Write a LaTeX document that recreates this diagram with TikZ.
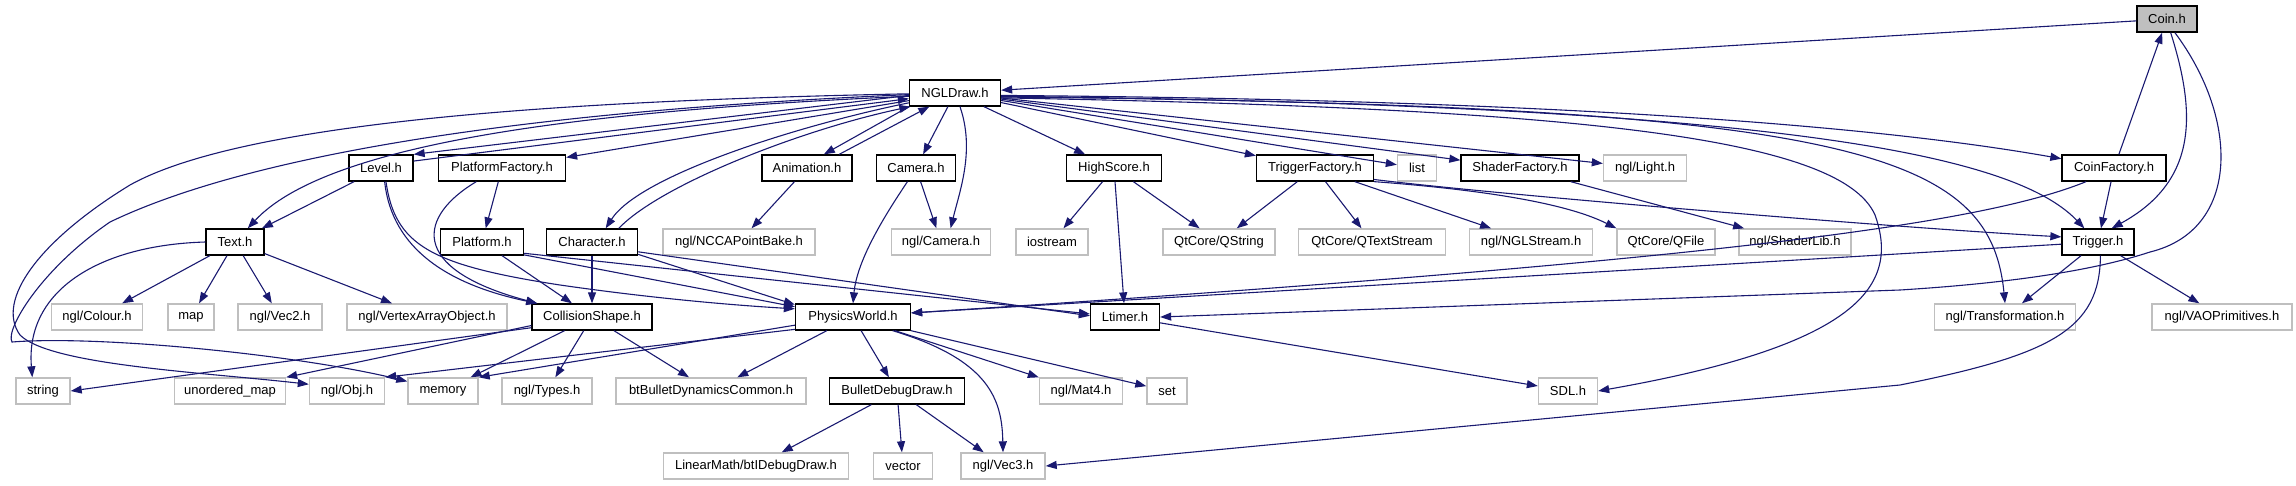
\documentclass[tikz,border=0pt]{standalone}
\usepackage{fontspec}
\setmainfont{Liberation Sans}
\usetikzlibrary{arrows.meta}
\definecolor{edgeblue}{HTML}{191970}
\definecolor{boxgray}{HTML}{BFBFBF}

\begin{document}
\begin{tikzpicture}[
  x=1pt, y=-1pt,
  font=\fontsize{13}{15}\selectfont,
  hdr/.style={draw=black, line width=1.3pt, minimum height=26pt, inner sep=0pt},
  sys/.style={draw=boxgray, line width=1.4pt, minimum height=26pt, inner sep=0pt},
  dep/.style={-{Triangle[length=11pt,width=8pt]}, color=edgeblue, line width=1.1pt}
]
  \useasboundingbox (0,0) rectangle (2296,485);

  \node[hdr, fill=boxgray, minimum width=60pt] (coin) at (2167,19) {Coin.h};
  \node[hdr, minimum width=91pt] (ngldraw) at (955,93) {NGLDraw.h};

  \node[hdr, minimum width=64pt] (level) at (381,168) {Level.h};
  \node[hdr, minimum width=127pt] (platfac) at (502,168) {PlatformFactory.h};
  \node[hdr, minimum width=90pt] (anim) at (807,168) {Animation.h};
  \node[hdr, minimum width=79pt] (camera) at (916,168) {Camera.h};
  \node[hdr, minimum width=95pt] (highscore) at (1114,168) {HighScore.h};
  \node[hdr, minimum width=117pt] (trigfac) at (1315,168) {TriggerFactory.h};
  \node[sys, minimum width=39pt] (list) at (1417,168) {list};
  \node[hdr, minimum width=118pt] (shadfac) at (1520,168) {ShaderFactory.h};
  \node[sys, minimum width=83pt] (light) at (1645,168) {ngl/Light.h};
  \node[hdr, minimum width=104pt] (coinfac) at (2114,168) {CoinFactory.h};

  \node[hdr, minimum width=58pt] (text) at (235,242) {Text.h};
  \node[hdr, minimum width=83pt] (platform) at (482,242) {Platform.h};
  \node[hdr, minimum width=91pt] (character) at (592,242) {Character.h};
  \node[sys, minimum width=152pt] (pointbake) at (739,242) {ngl/NCCAPointBake.h};
  \node[sys, minimum width=99pt] (nglcam) at (941,242) {ngl/Camera.h};
  \node[sys, minimum width=72pt] (iostream) at (1052,242) {iostream};
  \node[sys, minimum width=112pt] (qstring) at (1219,242) {QtCore/QString};
  \node[sys, minimum width=147pt] (qtextstream) at (1372,242) {QtCore/QTextStream};
  \node[sys, minimum width=123pt] (nglstream) at (1531,242) {ngl/NGLStream.h};
  \node[sys, minimum width=98pt] (qfile) at (1666,242) {QtCore/QFile};
  \node[sys, minimum width=112pt] (shaderlib) at (1795,242) {ngl/ShaderLib.h};
  \node[hdr, minimum width=72pt] (trigger) at (2098,242) {Trigger.h};

  \node[sys, minimum width=91pt] (colour) at (97,317) {ngl/Colour.h};
  \node[sys, minimum width=46pt] (map) at (191,317) {map};
  \node[sys, minimum width=84pt] (vec2) at (280,317) {ngl/Vec2.h};
  \node[sys, minimum width=160pt] (vao) at (427,317) {ngl/VertexArrayObject.h};
  \node[hdr, minimum width=120pt] (collision) at (592,317) {CollisionShape.h};
  \node[hdr, minimum width=115pt] (physics) at (853,317) {PhysicsWorld.h};
  \node[hdr, minimum width=69pt] (ltimer) at (1125,317) {Ltimer.h};
  \node[sys, minimum width=141pt] (transform) at (2005,317) {ngl/Transformation.h};
  \node[sys, minimum width=140pt] (vaoprim) at (2222,317) {ngl/VAOPrimitives.h};

  \node[sys, minimum width=54pt] (string) at (43,391) {string};
  \node[sys, minimum width=111pt] (umap) at (230,391) {unordered\_map};
  \node[sys, minimum width=75pt] (obj) at (347,391) {ngl/Obj.h};
  \node[sys, minimum width=70pt] (memory) at (443,391) {memory};
  \node[sys, minimum width=90pt] (types) at (547,391) {ngl/Types.h};
  \node[sys, minimum width=190pt] (btbullet) at (711,391) {btBulletDynamicsCommon.h};
  \node[hdr, minimum width=135pt] (bulletdbg) at (897,391) {BulletDebugDraw.h};
  \node[sys, minimum width=83pt] (mat4) at (1081,391) {ngl/Mat4.h};
  \node[sys, minimum width=40pt] (set) at (1167,391) {set};
  \node[sys, minimum width=59pt] (sdl) at (1568,391) {SDL.h};

  \node[sys, minimum width=185pt] (btidebug) at (756,466) {LinearMath/btIDebugDraw.h};
  \node[sys, minimum width=59pt] (vector) at (903,466) {vector};
  \node[sys, minimum width=84pt] (vec3) at (1003,466) {ngl/Vec3.h};

  \draw[dep] (coin) -- (ngldraw);
  \draw[dep] (coin.-75) .. controls (2195,110) and (2200,180) .. (trigger.45);
  \draw[dep] (coin.-60) .. controls (2240,120) and (2240,230) .. (2150,252)
    .. controls (2080,275) and (1980,285) .. (1900,290) -- (ltimer.east);
  \draw[dep] (coinfac) -- (coin);
  \draw[dep] (coinfac) -- (trigger);
  \draw[dep] (coinfac.-154) .. controls (1980,225) and (1700,262) .. (physics.4);

  \draw[dep] (ngldraw.-3) .. controls (1600,100) and (1900,130) .. (coinfac.170);
  \draw[dep] (ngldraw.-4) .. controls (1750,105) and (2010,150) .. (trigger.135);
  \draw[dep] (ngldraw.-5) .. controls (1850,105) and (1990,150) .. (transform.north);
  \draw[dep] (ngldraw.-6) .. controls (1560,108) and (1840,135) .. (1875,215)
    .. controls (1900,285) and (1860,345) .. (sdl.east);
  \draw[dep] (ngldraw) -- (light);
  \draw[dep] (ngldraw) -- (shadfac);
  \draw[dep] (ngldraw) -- (list);
  \draw[dep] (ngldraw) -- (trigfac);
  \draw[dep] (ngldraw) -- (highscore);
  \draw[dep] (ngldraw) -- (camera);
  \draw[dep] (ngldraw.-70) .. controls (975,150) and (960,190) .. (nglcam.55);
  \draw[dep] (ngldraw.south west) -- (anim.39);
  \draw[dep] (anim.23) -- (ngldraw.-152);
  \draw[dep] (ngldraw.-168) .. controls (800,125) and (640,175) .. (character.45);
  \draw[dep] (character.27) .. controls (660,185) and (800,130) .. (ngldraw.-163);
  \draw[dep] (ngldraw) -- (platfac);
  \draw[dep] (ngldraw.-177) -- (level.north east);
  \draw[dep] (level.12) -- (ngldraw.-173);
  \draw[dep] (ngldraw.-176) .. controls (600,110) and (330,140) .. (text.47);
  \draw[dep] (ngldraw.-179) .. controls (600,100) and (250,118) .. (130,185)
    .. controls (40,240) and (-5,300) .. (20,335)
    .. controls (50,365) and (200,372) .. (obj.170);
  \draw[dep] (ngldraw.-178) .. controls (550,110) and (260,150) .. (110,222)
    .. controls (40,270) and (5,330) .. (12,342)
    .. controls (100,335) and (300,355) .. (memory.165);

  \draw[dep] (trigfac) -- (qstring);
  \draw[dep] (trigfac) -- (qtextstream);
  \draw[dep] (trigfac) -- (nglstream);
  \draw[dep] (trigfac.-13) .. controls (1460,188) and (1560,200) .. (qfile.north west);
  \draw[dep] (trigfac.-11) .. controls (1500,195) and (1900,228) .. (trigger.172);
  \draw[dep] (highscore) -- (iostream);
  \draw[dep] (highscore) -- (qstring);
  \draw[dep] (highscore) -- (ltimer);
  \draw[dep] (shadfac) -- (shaderlib);
  \draw[dep] (camera) -- (nglcam);
  \draw[dep] (camera.-122) .. controls (885,215) and (857,260) .. (physics.north);
  \draw[dep] (anim) -- (pointbake);

  \draw[dep] (trigger) -- (physics.4);
  \draw[dep] (trigger) -- (transform);
  \draw[dep] (trigger) -- (vaoprim);
  \draw[dep] (trigger.-80) .. controls (2100,330) and (2050,355) .. (1900,385) -- (vec3.east);
  \draw[dep] (ltimer) -- (sdl);

  \draw[dep] (level) -- (text);
  \draw[dep] (level.-75) .. controls (392,250) and (450,285) .. (collision.166);
  \draw[dep] (level.-70) .. controls (395,245) and (430,265) .. (560,285)
    .. controls (650,298) and (730,305) .. (physics.172);
  \draw[dep] (platfac.-152) .. controls (420,215) and (405,268) .. (collision.166);
  \draw[dep] (platfac) -- (platform);
  \draw[dep] (platform) -- (collision);
  \draw[dep] (platform.-17) -- (physics.170);
  \draw[dep] (platform.-15) -- (ltimer.175);
  \draw[dep] (character) -- (collision);
  \draw[dep] (character.-15) -- (physics.168);
  \draw[dep] (character.-12) -- (ltimer.178);

  \draw[dep] (text) -- (colour);
  \draw[dep] (text) -- (map);
  \draw[dep] (text) -- (vec2);
  \draw[dep] (text) -- (vao);
  \draw[dep] (text.west) .. controls (100,245) and (25,290) .. (string.128);

  \draw[dep] (collision.-170) -- (string.east);
  \draw[dep] (collision.-172) -- (umap.north east);
  \draw[dep] (collision) -- (memory);
  \draw[dep] (collision) -- (types);
  \draw[dep] (collision) -- (btbullet);

  \draw[dep] (physics.-172) -- (memory.north east);
  \draw[dep] (physics.-168) -- (obj.north east);
  \draw[dep] (physics) -- (btbullet);
  \draw[dep] (physics) -- (bulletdbg);
  \draw[dep] (physics) -- (mat4);
  \draw[dep] (physics) -- (set);
  \draw[dep] (physics.-19) .. controls (990,360) and (1002,400) .. (vec3.north);

  \draw[dep] (bulletdbg) -- (btidebug);
  \draw[dep] (bulletdbg) -- (vector);
  \draw[dep] (bulletdbg) -- (vec3);
\end{tikzpicture}
\end{document}
